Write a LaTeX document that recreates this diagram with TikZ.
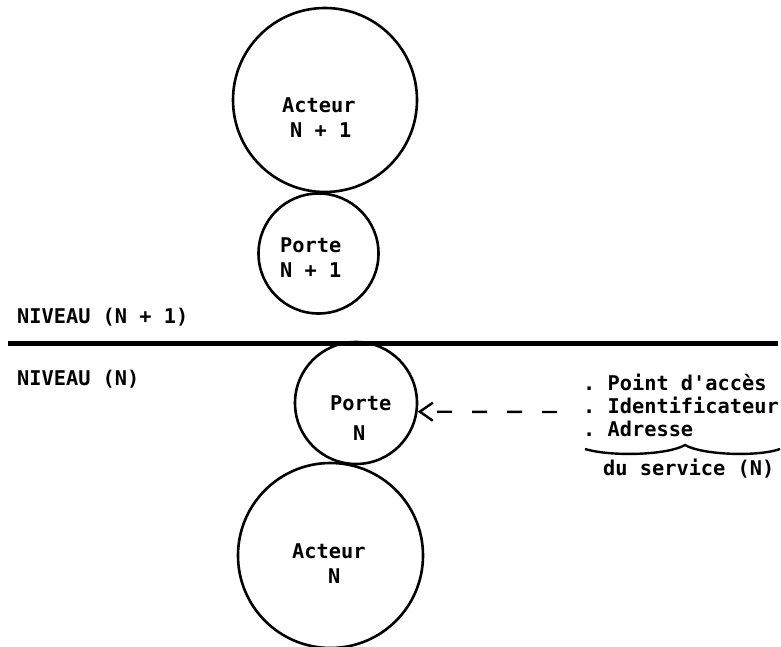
\documentclass[tikz,border=0pt]{standalone}
\usepackage{fontspec}
\setmonofont{DejaVu Sans Mono}
\usetikzlibrary{arrows.meta}
\begin{document}
\begin{tikzpicture}[x=1pt,y=-1pt,
  ring/.style={draw,circle,line width=2.6pt,inner sep=0pt},
  lbl/.style={anchor=base west,inner sep=0pt,font=\ttfamily\bfseries\fontsize{20.3}{23}\selectfont},
  levelline/.style={line width=5pt},
  pointer/.style={line width=2.4pt,dash pattern=on 15pt off 20pt,
    -{Straight Barb[length=13pt,width=18pt,line width=2.4pt]}},
  bracepath/.style={line width=2.4pt}]
\useasboundingbox (0,0) rectangle (781,647);

% level separator
\coordinate (sepL) at (8,343);
\coordinate (sepR) at (778,343);
\draw[levelline] (sepL) -- (sepR);

% entities and their gates
\node[ring,minimum size=184pt] (acteurA) at (325,100) {};
\node[ring,minimum size=120pt] (porteA) at (318.5,253.5) {};
\node[ring,minimum size=122pt] (porteB) at (356,403) {};
\node[ring,minimum size=185pt] (acteurB) at (330.5,555.5) {};

% labels inside the circles
\node[lbl] (acteurAt1) at (282,113) {Acteur};
\node[lbl] (acteurAt2) at (290,138) {N + 1};
\node[lbl] (porteAt1) at (280,252) {Porte};
\node[lbl] (porteAt2) at (280,277) {N + 1};
\node[lbl] (porteBt1) at (330,410) {Porte};
\node[lbl] (porteBt2) at (353,440) {N};
\node[lbl] (acteurBt1) at (292,558) {Acteur};
\node[lbl] (acteurBt2) at (328,583) {N};

% level names
\node[lbl] (niveauA) at (17,323) {NIVEAU (N + 1)};
\node[lbl] (niveauB) at (17,385) {NIVEAU (N)};

% service access point description
\node[lbl] (pt1) at (583,390) {. Point d'accès};
\node[lbl] (pt2) at (583,413) {. Identificateur};
\node[lbl] (pt3) at (583,436) {. Adresse};
\node[lbl] (pt4) at (603,475) {du service (N)};

\coordinate (ptsrc) at (557,412);
\draw[pointer] (ptsrc) -- (porteB.-8.5);

% brace grouping the three items
\coordinate (brL) at (585,449);
\coordinate (brM) at (685,445);
\coordinate (brR) at (780,449);
\draw[bracepath] (brL) .. controls (612,457) and (668,455) .. (brM)
  .. controls (702,455) and (758,457) .. (brR);
\end{tikzpicture}
\end{document}
